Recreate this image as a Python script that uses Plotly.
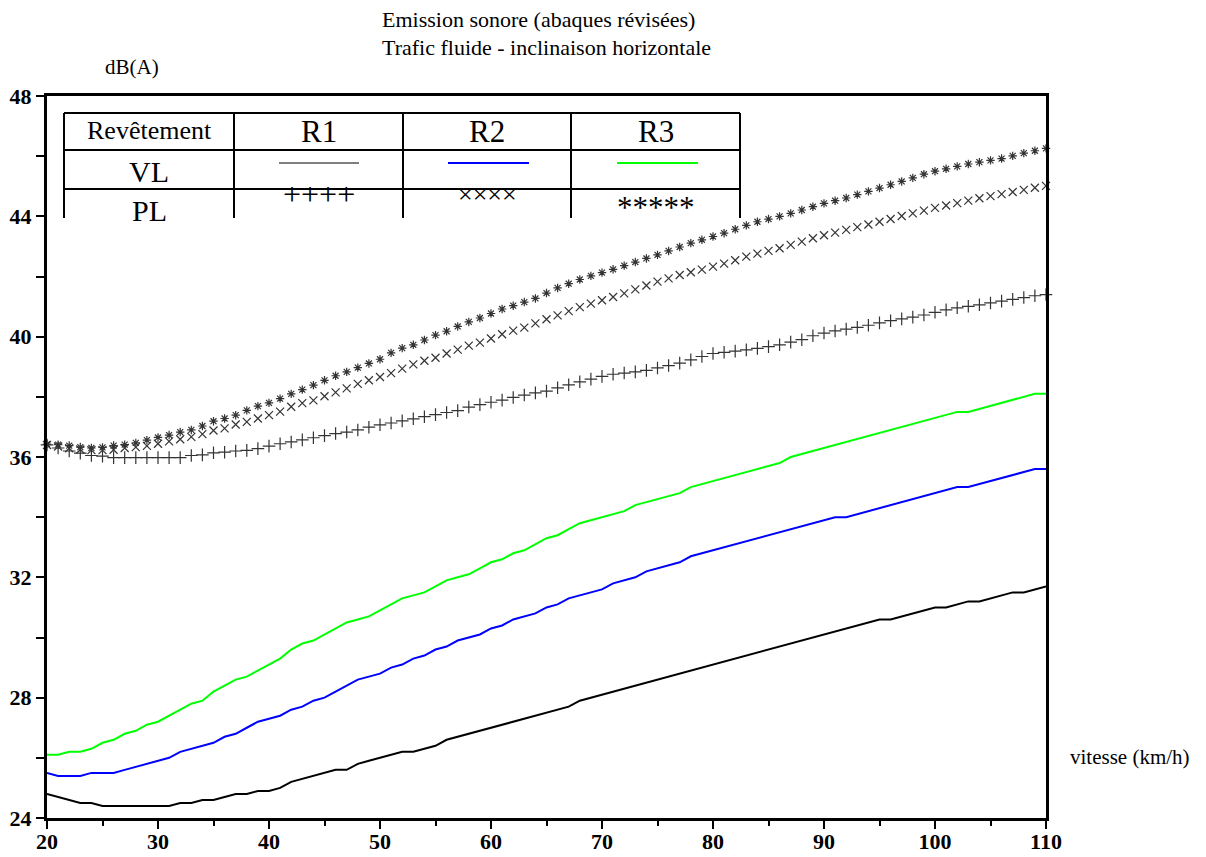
import plotly.graph_objects as go

# ---------------- data ----------------
speed = list(range(20, 111))

vl_r1 = [24.8, 24.7, 24.6, 24.5, 24.5, 24.4, 24.4, 24.4, 24.4, 24.4,
         24.4, 24.4, 24.5, 24.5, 24.6, 24.6, 24.7, 24.8, 24.8, 24.9,
         24.9, 25.0, 25.2, 25.3, 25.4, 25.5, 25.6, 25.6, 25.8, 25.9,
         26.0, 26.1, 26.2, 26.2, 26.3, 26.4, 26.6, 26.7, 26.8, 26.9,
         27.0, 27.1, 27.2, 27.3, 27.4, 27.5, 27.6, 27.7, 27.9, 28.0,
         28.1, 28.2, 28.3, 28.4, 28.5, 28.6, 28.7, 28.8, 28.9, 29.0,
         29.1, 29.2, 29.3, 29.4, 29.5, 29.6, 29.7, 29.8, 29.9, 30.0,
         30.1, 30.2, 30.3, 30.4, 30.5, 30.6, 30.6, 30.7, 30.8, 30.9,
         31.0, 31.0, 31.1, 31.2, 31.2, 31.3, 31.4, 31.5, 31.5, 31.6,
         31.7]

vl_r2 = [25.5, 25.4, 25.4, 25.4, 25.5, 25.5, 25.5, 25.6, 25.7, 25.8,
         25.9, 26.0, 26.2, 26.3, 26.4, 26.5, 26.7, 26.8, 27.0, 27.2,
         27.3, 27.4, 27.6, 27.7, 27.9, 28.0, 28.2, 28.4, 28.6, 28.7,
         28.8, 29.0, 29.1, 29.3, 29.4, 29.6, 29.7, 29.9, 30.0, 30.1,
         30.3, 30.4, 30.6, 30.7, 30.8, 31.0, 31.1, 31.3, 31.4, 31.5,
         31.6, 31.8, 31.9, 32.0, 32.2, 32.3, 32.4, 32.5, 32.7, 32.8,
         32.9, 33.0, 33.1, 33.2, 33.3, 33.4, 33.5, 33.6, 33.7, 33.8,
         33.9, 34.0, 34.0, 34.1, 34.2, 34.3, 34.4, 34.5, 34.6, 34.7,
         34.8, 34.9, 35.0, 35.0, 35.1, 35.2, 35.3, 35.4, 35.5, 35.6,
         35.6]

vl_r3 = [26.1, 26.1, 26.2, 26.2, 26.3, 26.5, 26.6, 26.8, 26.9, 27.1,
         27.2, 27.4, 27.6, 27.8, 27.9, 28.2, 28.4, 28.6, 28.7, 28.9,
         29.1, 29.3, 29.6, 29.8, 29.9, 30.1, 30.3, 30.5, 30.6, 30.7,
         30.9, 31.1, 31.3, 31.4, 31.5, 31.7, 31.9, 32.0, 32.1, 32.3,
         32.5, 32.6, 32.8, 32.9, 33.1, 33.3, 33.4, 33.6, 33.8, 33.9,
         34.0, 34.1, 34.2, 34.4, 34.5, 34.6, 34.7, 34.8, 35.0, 35.1,
         35.2, 35.3, 35.4, 35.5, 35.6, 35.7, 35.8, 36.0, 36.1, 36.2,
         36.3, 36.4, 36.5, 36.6, 36.7, 36.8, 36.9, 37.0, 37.1, 37.2,
         37.3, 37.4, 37.5, 37.5, 37.6, 37.7, 37.8, 37.9, 38.0, 38.1,
         38.1]

pl_r1 = [36.40, 36.30, 36.20, 36.13, 36.05, 36.03, 35.98, 35.98, 35.98, 35.98,
         35.98, 35.98, 35.98, 36.05, 36.07, 36.14, 36.16, 36.20, 36.22, 36.28,
         36.36, 36.44, 36.50, 36.57, 36.64, 36.71, 36.78, 36.83, 36.90, 36.99,
         37.07, 37.13, 37.20, 37.27, 37.34, 37.41, 37.48, 37.54, 37.66, 37.74,
         37.82, 37.89, 37.98, 38.06, 38.13, 38.19, 38.30, 38.40, 38.50, 38.59,
         38.68, 38.75, 38.79, 38.83, 38.88, 38.96, 39.04, 39.12, 39.23, 39.34,
         39.44, 39.48, 39.52, 39.56, 39.61, 39.67, 39.73, 39.82, 39.90, 40.03,
         40.12, 40.19, 40.25, 40.31, 40.38, 40.46, 40.53, 40.59, 40.65, 40.72,
         40.81, 40.89, 40.96, 41.01, 41.06, 41.12, 41.18, 41.24, 41.30, 41.36,
         41.40]

pl_r2 = [36.40, 36.35, 36.29, 36.25, 36.23, 36.23, 36.24, 36.30, 36.33, 36.37,
         36.44, 36.52, 36.59, 36.67, 36.76, 36.88, 36.95, 37.08, 37.17, 37.28,
         37.39, 37.51, 37.67, 37.79, 37.88, 38.02, 38.15, 38.28, 38.43, 38.55,
         38.66, 38.79, 38.94, 39.08, 39.20, 39.30, 39.44, 39.57, 39.70, 39.80,
         39.94, 40.08, 40.20, 40.30, 40.44, 40.58, 40.71, 40.85, 40.98, 41.10,
         41.21, 41.32, 41.44, 41.57, 41.70, 41.83, 41.94, 42.05, 42.14, 42.23,
         42.33, 42.43, 42.54, 42.66, 42.76, 42.85, 42.94, 43.05, 43.16, 43.27,
         43.37, 43.46, 43.55, 43.64, 43.73, 43.82, 43.91, 44.01, 44.10, 44.19,
         44.28, 44.36, 44.44, 44.52, 44.60, 44.67, 44.74, 44.81, 44.88, 44.95,
         45.01]

pl_r3 = [36.43, 36.41, 36.38, 36.33, 36.30, 36.32, 36.38, 36.41, 36.47, 36.56,
         36.65, 36.73, 36.83, 36.90, 37.03, 37.19, 37.28, 37.39, 37.55, 37.69,
         37.80, 37.94, 38.10, 38.24, 38.39, 38.55, 38.70, 38.83, 38.97, 39.11,
         39.25, 39.46, 39.62, 39.73, 39.89, 40.05, 40.18, 40.34, 40.49, 40.62,
         40.77, 40.92, 41.03, 41.15, 41.27, 41.45, 41.62, 41.76, 41.90, 42.02,
         42.13, 42.24, 42.36, 42.48, 42.60, 42.72, 42.85, 42.98, 43.11, 43.22,
         43.33, 43.44, 43.57, 43.70, 43.82, 43.91, 44.00, 44.10, 44.21, 44.32,
         44.43, 44.52, 44.61, 44.72, 44.83, 44.94, 45.05, 45.16, 45.28, 45.40,
         45.50, 45.58, 45.66, 45.74, 45.80, 45.86, 45.92, 46.01, 46.10, 46.18,
         46.26]

x_ticks = [20, 30, 40, 50, 60, 70, 80, 90, 100, 110]
y_ticks = [24, 28, 32, 36, 40, 44, 48]

title_lines = ["Emission sonore (abaques révisées)", "Trafic fluide - inclinaison horizontale"]
y_title = "dB(A)"
x_title = "vitesse (km/h)"
table_header = ["Revêtement", "R1", "R2", "R3"]
table_rows = ["VL", "PL"]
pl_legend_text = ["++++", "××××", "*****"]

# ---------------- figure ----------------
OFF = 8                      # page body margin offset
W, H = 1190, 849
L, R, T, B = 47, 1046, 96, 818   # plot area in page pixels
SERIF = "Liberation Serif"
MARK = "#333333"


def xp(px):
    return (px - L) / (R - L)


def yp(py):
    return (B - py) / (B - T)


fig = go.Figure()

for vals, col in [(vl_r1, "#000000"), (vl_r2, "#0000ff"), (vl_r3, "#00ff00")]:
    fig.add_trace(go.Scatter(x=speed, y=vals, mode="lines",
                             line=dict(color=col, width=2), showlegend=False))

for vals, sym, size in [(pl_r1, "cross-thin", 9), (pl_r2, "x-thin", 8), (pl_r3, "asterisk", 7)]:
    fig.add_trace(go.Scatter(x=speed, y=vals, mode="markers",
                             marker=dict(symbol=sym, size=size, color=MARK,
                                         line=dict(color=MARK, width=1.2)),
                             showlegend=False, cliponaxis=False))

shapes = []
col_x = [64, 234, 403, 571, 740]
row_y = [113, 150, 189]
bottom_y = 218
for ry in row_y:
    shapes.append(dict(type="line", xref="paper", yref="paper",
                       x0=xp(col_x[0]), x1=xp(col_x[-1]), y0=yp(ry), y1=yp(ry),
                       line=dict(color="black", width=2), layer="above"))
for cx in col_x:
    shapes.append(dict(type="line", xref="paper", yref="paper",
                       x0=xp(cx), x1=xp(cx), y0=yp(row_y[0]), y1=yp(bottom_y),
                       line=dict(color="black", width=2), layer="above"))
for (x0, x1), col, lw in [((279, 359), "#555555", 1.5), ((448, 529), "#0000ff", 2),
                          ((617, 698), "#00ff00", 2)]:
    shapes.append(dict(type="line", xref="paper", yref="paper",
                       x0=xp(x0), x1=xp(x1), y0=yp(163), y1=yp(163),
                       line=dict(color=col, width=lw), layer="above"))

annotations = []
for i, line in enumerate(title_lines):
    annotations.append(dict(text=line, xref="paper", yref="paper",
                            x=xp(380), y=yp(20 + 28 * i), xanchor="left", yanchor="middle",
                            showarrow=False, font=dict(family=SERIF, size=22, color="black")))
annotations.append(dict(text=y_title, xref="paper", yref="paper", x=xp(103), y=yp(67),
                        xanchor="left", yanchor="middle", showarrow=False,
                        font=dict(family=SERIF, size=21, color="black")))
annotations.append(dict(text=x_title, xref="paper", yref="paper", x=xp(1068), y=yp(757),
                        xanchor="left", yanchor="middle", showarrow=False,
                        font=dict(family=SERIF, size=21, color="black")))
centers = [(col_x[i] + col_x[i + 1]) / 2 for i in range(4)]
annotations.append(dict(text=table_header[0], xref="paper", yref="paper", x=xp(centers[0]),
                        y=yp(131), xanchor="center", yanchor="middle", showarrow=False,
                        font=dict(family=SERIF, size=26, color="black")))
for i in range(1, 4):
    annotations.append(dict(text=table_header[i], xref="paper", yref="paper", x=xp(centers[i]),
                            y=yp(132), xanchor="center", yanchor="middle", showarrow=False,
                            font=dict(family=SERIF, size=31, color="black")))
annotations.append(dict(text=table_rows[0], xref="paper", yref="paper", x=xp(centers[0]),
                        y=yp(171), xanchor="center", yanchor="middle", showarrow=False,
                        font=dict(family=SERIF, size=30, color="black")))
annotations.append(dict(text=table_rows[1], xref="paper", yref="paper", x=xp(centers[0]),
                        y=yp(210), xanchor="center", yanchor="middle", showarrow=False,
                        font=dict(family=SERIF, size=30, color="black")))
for i, (txt, yy, fs) in enumerate(zip(pl_legend_text, [194, 194, 207], [32, 26, 31])):
    annotations.append(dict(text=txt, xref="paper", yref="paper", x=xp(centers[i + 1]),
                            y=yp(yy), xanchor="center", yanchor="middle", showarrow=False,
                            font=dict(family=SERIF, size=fs, color="black")))

tickfont = dict(family=SERIF, size=22, color="black", weight="bold")

fig.update_layout(
    width=W, height=H, autosize=False,
    margin=dict(l=L - OFF, r=W - (R - OFF), t=T - OFF, b=H - (B - OFF), pad=0),
    paper_bgcolor="white", plot_bgcolor="white",
    shapes=shapes, annotations=annotations,
    xaxis=dict(range=[20, 110], tickvals=x_ticks, ticktext=[str(v) for v in x_ticks],
               showgrid=False, zeroline=False, showline=True, linecolor="black", linewidth=3,
               mirror=True, ticks="outside", ticklen=8, tickwidth=2, tickcolor="black",
               minor=dict(dtick=5, tick0=20, ticks="outside", ticklen=5, tickwidth=2,
                          tickcolor="black", showgrid=False),
               ticklabelstandoff=-6,
               tickfont=tickfont, automargin=False),
    yaxis=dict(range=[24, 48], tickvals=y_ticks, ticktext=[str(v) for v in y_ticks],
               showgrid=False, zeroline=False, showline=True, linecolor="black", linewidth=3,
               mirror=True, ticks="outside", ticklen=8, tickwidth=2, tickcolor="black",
               minor=dict(dtick=2, tick0=24, ticks="outside", ticklen=8, tickwidth=2,
                          tickcolor="black", showgrid=False),
               tickfont=tickfont, automargin=False),
)

fig.write_html("out.html")
